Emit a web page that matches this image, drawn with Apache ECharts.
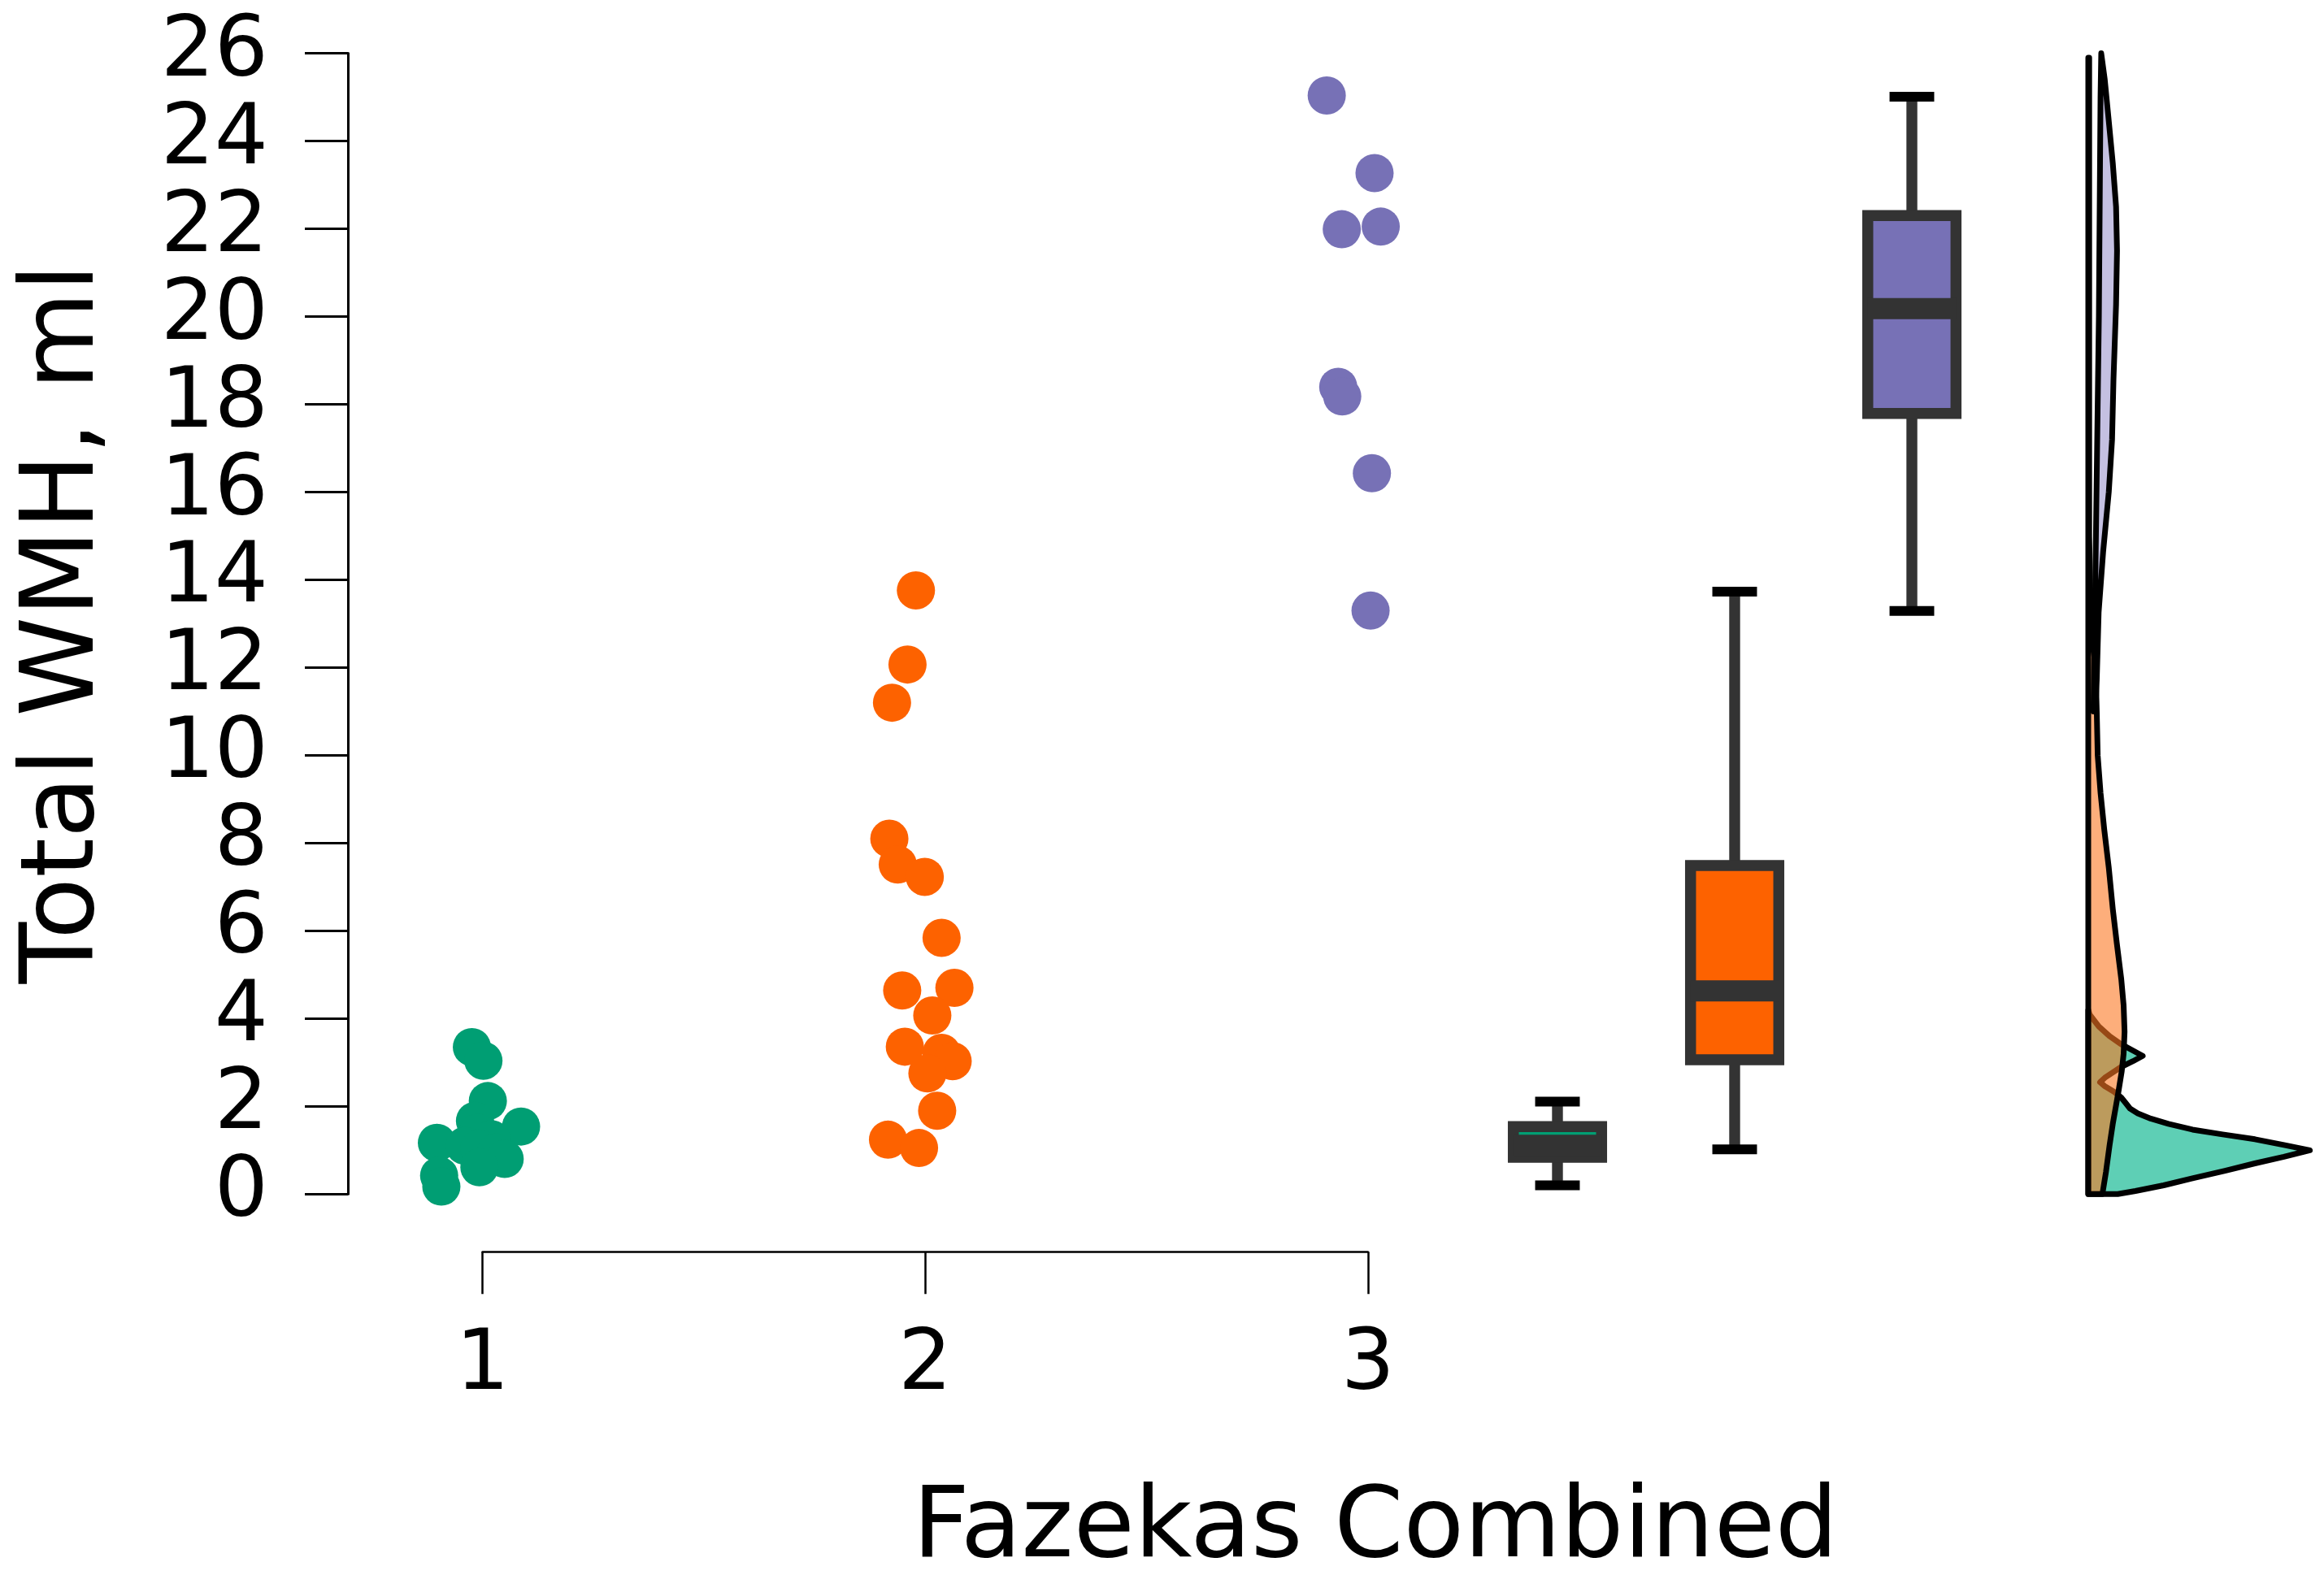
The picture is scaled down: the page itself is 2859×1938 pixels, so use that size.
<!DOCTYPE html>
<html lang="en">
<head>
    <meta charset="UTF-8">
    <title>Total WMH by Fazekas</title>
    <script src="https://cdn.jsdelivr.net/npm/echarts@6/dist/echarts.min.js"></script>
    <style>
        html, body { margin: 0; padding: 0; background: #fff; }
        #main { width: 2859px; height: 1938px; }
    </style>
</head>
<body>
<div id="main"></div>

<script type="text/javascript">
    // groups
    var fazekas = ['1', '2', '3'];

    // raw points (value, jittered x position)
    var wmh1 = [3.35, 3.04, 2.12, 1.67, 1.54, 1.40, 1.25, 1.17, 1.10, 1.04, 0.95, 0.80, 0.61, 0.42, 0.17];
    var jit1 = [0.976, 1.002, 1.012, 0.983, 1.087, 0.990, 1.020, 0.897, 0.960, 0.993, 1.030, 1.050, 0.993, 0.902, 0.907];
    var wmh2 = [13.76, 12.07, 11.20, 8.10, 7.51, 7.23, 5.84, 4.64, 4.70, 4.07, 3.36, 3.22, 3.03, 2.75, 1.90, 1.24, 1.05];
    var jit2 = [1.979, 1.960, 1.925, 1.919, 1.938, 1.999, 2.037, 1.948, 2.066, 2.016, 1.954, 2.037, 2.062, 2.005, 2.027, 1.916, 1.986];
    var wmh3 = [25.04, 23.27, 21.99, 22.05, 18.40, 18.18, 16.43, 13.30];
    var jit3 = [2.907, 3.015, 2.941, 3.029, 2.933, 2.942, 3.009, 3.006];

    // box summaries
    var boxMin = [0.20, 1.02, 13.29];
    var boxQ1 = [0.84, 3.06, 17.79];
    var boxMed = [1.11, 4.63, 20.18];
    var boxQ3 = [1.54, 7.49, 22.30];
    var boxMax = [2.11, 13.73, 25.01];

    // density outlines [density, value]
    var densGreen = [[0.125, 0], [0.2, 0.07], [0.32, 0.2], [0.442, 0.36], [0.58, 0.53], [0.707, 0.7],
        [0.83, 0.85], [0.94, 1.0], [0.83, 1.12], [0.707, 1.25], [0.57, 1.36], [0.442, 1.47], [0.34, 1.6],
        [0.265, 1.72], [0.21, 1.84], [0.177, 1.95], [0.158, 2.08], [0.14, 2.2], [0.11, 2.33], [0.07, 2.46],
        [0.05, 2.55], [0.07, 2.65], [0.1, 2.76], [0.14, 2.9], [0.19, 3.03], [0.231, 3.15], [0.19, 3.27],
        [0.138, 3.42], [0.09, 3.6], [0.045, 3.82], [0.006, 4.09], [0, 4.2]];
    var densOrange = [[0.06, 0], [0.075, 0.5], [0.09, 1.1], [0.104, 1.6], [0.127, 2.3], [0.142, 2.8],
        [0.15, 3.2], [0.154, 3.7], [0.15, 4.3], [0.14, 4.9], [0.121, 5.72], [0.104, 6.5], [0.087, 7.44],
        [0.068, 8.3], [0.052, 9.15], [0.04, 10.0], [0.036, 11.0], [0.032, 11.8], [0.018, 12.8],
        [0.008, 13.8], [0.004, 15.0], [0.004, 25.9], [0, 25.9]];
    var densPurple = [[0.055, 26.0], [0.07, 25.4], [0.085, 24.57], [0.104, 23.5], [0.118, 22.5],
        [0.122, 21.5], [0.118, 20.28], [0.107, 18.57], [0.101, 17.2], [0.087, 16.0], [0.063, 14.63],
        [0.044, 13.26], [0.036, 11.72], [0.03, 11.0]];
    var purpleLeft = [[0.022, 11.0], [0.03, 14.0], [0.045, 20.0], [0.052, 25.0]];

    var yTicks = {min: 0, max: 26, interval: 2};

    var colGreen = '#009e73', colOrange = '#fd6200', colPurple = '#7771b6';
    var boxFill = [colGreen, colOrange, colPurple];
    var font = 'DejaVu Sans';

    function pts(vals, jit) {
        return vals.map(function (v, i) { return [jit[i], v]; });
    }

    function renderBox(params, api) {
        var x = api.value(0);
        var band = api.size([1, 0])[0];
        var hw = band * 0.249, cw = band * 0.126;
        var pMin = api.coord([x, api.value(1)]);
        var pQ1 = api.coord([x, api.value(2)]);
        var pMed = api.coord([x, api.value(3)]);
        var pQ3 = api.coord([x, api.value(4)]);
        var pMax = api.coord([x, api.value(5)]);
        var cx = pMed[0];
        var dark = '#333333';
        return {
            type: 'group',
            children: [
                {type: 'line', shape: {x1: cx, y1: pQ3[1], x2: cx, y2: pMax[1]}, style: {stroke: dark, lineWidth: 13.4}},
                {type: 'line', shape: {x1: cx, y1: pQ1[1], x2: cx, y2: pMin[1]}, style: {stroke: dark, lineWidth: 13.4}},
                {type: 'rect', shape: {x: cx - hw, y: pQ3[1], width: 2 * hw, height: pQ1[1] - pQ3[1]},
                    style: {fill: boxFill[params.dataIndex], stroke: dark, lineWidth: 13.5}},
                {type: 'line', shape: {x1: cx - hw, y1: pMed[1], x2: cx + hw, y2: pMed[1]}, style: {stroke: dark, lineWidth: 26}},
                {type: 'line', shape: {x1: cx - cw, y1: pMax[1], x2: cx + cw, y2: pMax[1]}, style: {stroke: '#000', lineWidth: 12}},
                {type: 'line', shape: {x1: cx - cw, y1: pMin[1], x2: cx + cw, y2: pMin[1]}, style: {stroke: '#000', lineWidth: 12}}
            ]
        };
    }

    function densityRender(curve, fill) {
        return function (params, api) {
            var poly = curve.map(function (p) { return api.coord(p); });
            poly.push(api.coord([0, 0]));
            return {
                type: 'polygon',
                shape: {points: poly},
                style: {fill: fill, stroke: '#000', lineWidth: 7, lineJoin: 'round'}
            };
        };
    }

    function renderPurple(params, api) {
        var poly = densPurple.concat(purpleLeft).map(function (p) { return api.coord(p); });
        return {
            type: 'polygon',
            shape: {points: poly},
            style: {fill: '#c4c0e1', stroke: '#000', lineWidth: 7, lineJoin: 'round'}
        };
    }

    var myChart = echarts.init(document.getElementById('main'));

    var option = {
        backgroundColor: '#ffffff',
        animation: false,
        grid: [
            {left: 593.6, right: 1176.2, top: 65.6, bottom: 468.7},
            {left: 1807, right: 398, top: 65.6, bottom: 468.7},
            {left: 2569, right: 0, top: 65.6, bottom: 468.7}
        ],
        xAxis: [
            {
                gridIndex: 0, type: 'value', min: 1, max: 3, interval: 1, offset: 71,
                axisLine: {show: true, onZero: false, lineStyle: {color: '#000', width: 2.5}},
                axisTick: {show: true, inside: false, length: 52, lineStyle: {color: '#000', width: 2.5}},
                axisLabel: {color: '#000', fontSize: 104, fontFamily: font, margin: 90},
                splitLine: {show: false}
            },
            {gridIndex: 1, type: 'category', data: fazekas, show: false},
            {gridIndex: 2, type: 'value', min: 0, max: 1, show: false}
        ],
        yAxis: [
            {
                gridIndex: 0, type: 'value', min: yTicks.min, max: yTicks.max, interval: yTicks.interval, offset: 165.6,
                name: 'Total WMH, ml', nameLocation: 'middle', nameGap: 284,
                nameTextStyle: {color: '#000', fontSize: 124, fontFamily: font},
                axisLine: {show: true, onZero: false, lineStyle: {color: '#000', width: 3}},
                axisTick: {show: true, inside: false, length: 53, lineStyle: {color: '#000', width: 3}},
                axisLabel: {color: '#000', fontSize: 104, fontFamily: font, margin: 98},
                splitLine: {show: false}
            },
            {gridIndex: 1, type: 'value', min: yTicks.min, max: yTicks.max, show: false},
            {gridIndex: 2, type: 'value', min: yTicks.min, max: yTicks.max, show: false}
        ],
        graphic: [{
            type: 'text', x: 1692, y: 1883,
            style: {text: 'Fazekas Combined', font: '122px "DejaVu Sans"', fill: '#000',
                align: 'center', verticalAlign: 'middle', textAlign: 'center', textVerticalAlign: 'middle'}
        }],
        series: [
            {type: 'scatter', xAxisIndex: 0, yAxisIndex: 0, clip: false, symbolSize: 47,
                itemStyle: {color: colGreen, opacity: 1}, data: pts(wmh1, jit1)},
            {type: 'scatter', xAxisIndex: 0, yAxisIndex: 0, clip: false, symbolSize: 47,
                itemStyle: {color: colOrange, opacity: 1}, data: pts(wmh2, jit2)},
            {type: 'scatter', xAxisIndex: 0, yAxisIndex: 0, clip: false, symbolSize: 47,
                itemStyle: {color: colPurple, opacity: 1}, data: pts(wmh3, jit3)},
            {
                type: 'custom', xAxisIndex: 1, yAxisIndex: 1, renderItem: renderBox,
                encode: {x: 0, y: [1, 2, 3, 4, 5]},
                data: fazekas.map(function (c, i) { return [i, boxMin[i], boxQ1[i], boxMed[i], boxQ3[i], boxMax[i]]; })
            },
            {type: 'custom', xAxisIndex: 2, yAxisIndex: 2, renderItem: densityRender(densGreen, '#5ecfb5'),
                encode: {x: 0, y: 1}, data: [[0, 0]]},
            {type: 'custom', xAxisIndex: 2, yAxisIndex: 2, renderItem: densityRender(densOrange, 'rgba(252,120,35,0.6)'),
                encode: {x: 0, y: 1}, data: [[0, 0]]},
            {type: 'custom', xAxisIndex: 2, yAxisIndex: 2, renderItem: renderPurple,
                encode: {x: 0, y: 1}, data: [[0, 0]]}
        ]
    };

    myChart.setOption(option);
</script>
</body>
</html>
